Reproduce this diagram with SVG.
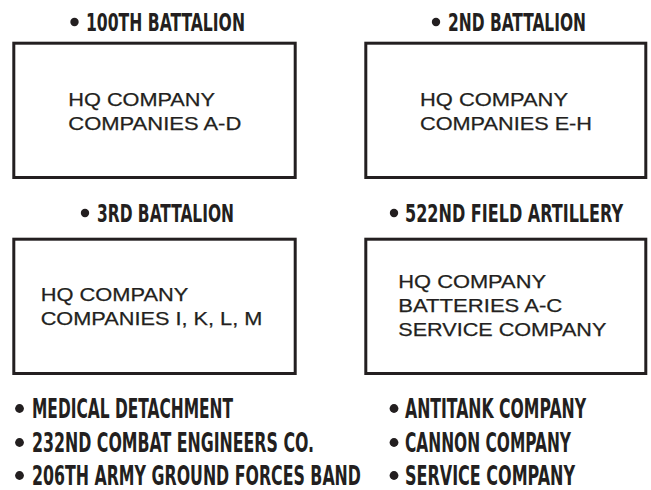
<svg xmlns="http://www.w3.org/2000/svg" width="651" height="490" viewBox="0 0 651 490">
<style>
.box{fill:#fff;stroke:#231f20;stroke-width:3}
.hd{font-family:"DejaVu Sans Condensed","DejaVu Sans",sans-serif;font-weight:bold;font-stretch:condensed;font-size:25px;fill:#231f20}
.ls{font-family:"DejaVu Sans Condensed","DejaVu Sans",sans-serif;font-weight:bold;font-stretch:condensed;font-size:26px;fill:#231f20}
.bd{font-family:"Liberation Sans",Arial,sans-serif;font-size:19px;fill:#231f20;stroke:#231f20;stroke-width:0.25}
.dot{fill:#231f20}
</style>
<rect width="651" height="490" fill="#fff"/>
<g id="connectors"></g>
<g id="node-100th">
<circle class="dot" cx="74.5" cy="22" r="4.2"/>
<text class="hd" transform="matrix(0.72 0 0 1 86 31)" x="0" y="0" textLength="220.8" lengthAdjust="spacingAndGlyphs">100TH BATTALION</text>
<rect class="box" x="13.8" y="43.2" width="281.4" height="134.3"/>
<text class="bd" x="68.3" y="106" textLength="146.7" lengthAdjust="spacingAndGlyphs">HQ COMPANY</text>
<text class="bd" x="68.3" y="130" textLength="173" lengthAdjust="spacingAndGlyphs">COMPANIES A-D</text>
</g>
<g id="node-2nd">
<circle class="dot" cx="436" cy="22" r="4.2"/>
<text class="hd" transform="matrix(0.72 0 0 1 448 31)" x="0" y="0" textLength="191.7" lengthAdjust="spacingAndGlyphs">2ND BATTALION</text>
<rect class="box" x="365.8" y="43.2" width="280" height="134.3"/>
<text class="bd" x="420" y="106" textLength="148" lengthAdjust="spacingAndGlyphs">HQ COMPANY</text>
<text class="bd" x="420" y="130" textLength="172" lengthAdjust="spacingAndGlyphs">COMPANIES E-H</text>
</g>
<g id="node-3rd">
<circle class="dot" cx="85" cy="213" r="4.2"/>
<text class="hd" transform="matrix(0.72 0 0 1 97 222.3)" x="0" y="0" textLength="190.3" lengthAdjust="spacingAndGlyphs">3RD BATTALION</text>
<rect class="box" x="13.8" y="239.2" width="281.4" height="134.3"/>
<text class="bd" x="40.7" y="301" textLength="147.6" lengthAdjust="spacingAndGlyphs">HQ COMPANY</text>
<text class="bd" x="40.7" y="325" textLength="221.6" lengthAdjust="spacingAndGlyphs">COMPANIES I, K, L, M</text>
</g>
<g id="node-522nd">
<circle class="dot" cx="394" cy="213" r="4.2"/>
<text class="hd" transform="matrix(0.72 0 0 1 405 222.3)" x="0" y="0" textLength="302.8" lengthAdjust="spacingAndGlyphs">522ND FIELD ARTILLERY</text>
<rect class="box" x="365.8" y="239.2" width="280" height="134.3"/>
<text class="bd" x="398.3" y="288.3" textLength="147.7" lengthAdjust="spacingAndGlyphs">HQ COMPANY</text>
<text class="bd" x="398.3" y="311.7" textLength="164" lengthAdjust="spacingAndGlyphs">BATTERIES A-C</text>
<text class="bd" x="398.3" y="335.7" textLength="208" lengthAdjust="spacingAndGlyphs">SERVICE COMPANY</text>
</g>
<g id="list-left">
<circle class="dot" cx="19.5" cy="408.5" r="4.4"/>
<text class="ls" transform="matrix(0.72 0 0 1 32 418)" x="0" y="0" textLength="279.2" lengthAdjust="spacingAndGlyphs">MEDICAL DETACHMENT</text>
<circle class="dot" cx="19.5" cy="442.5" r="4.4"/>
<text class="ls" transform="matrix(0.72 0 0 1 32 452)" x="0" y="0" textLength="391.7" lengthAdjust="spacingAndGlyphs">232ND COMBAT ENGINEERS CO.</text>
<circle class="dot" cx="19.5" cy="475.5" r="4.4"/>
<text class="ls" transform="matrix(0.72 0 0 1 32 485)" x="0" y="0" textLength="456.9" lengthAdjust="spacingAndGlyphs">206TH ARMY GROUND FORCES BAND</text>
</g>
<g id="list-right">
<circle class="dot" cx="394" cy="408.5" r="4.4"/>
<text class="ls" transform="matrix(0.72 0 0 1 405 418)" x="0" y="0" textLength="251.4" lengthAdjust="spacingAndGlyphs">ANTITANK COMPANY</text>
<circle class="dot" cx="394" cy="442.5" r="4.4"/>
<text class="ls" transform="matrix(0.72 0 0 1 405 452)" x="0" y="0" textLength="230.6" lengthAdjust="spacingAndGlyphs">CANNON COMPANY</text>
<circle class="dot" cx="394" cy="475.5" r="4.4"/>
<text class="ls" transform="matrix(0.72 0 0 1 405 485)" x="0" y="0" textLength="236.1" lengthAdjust="spacingAndGlyphs">SERVICE COMPANY</text>
</g>
</svg>
